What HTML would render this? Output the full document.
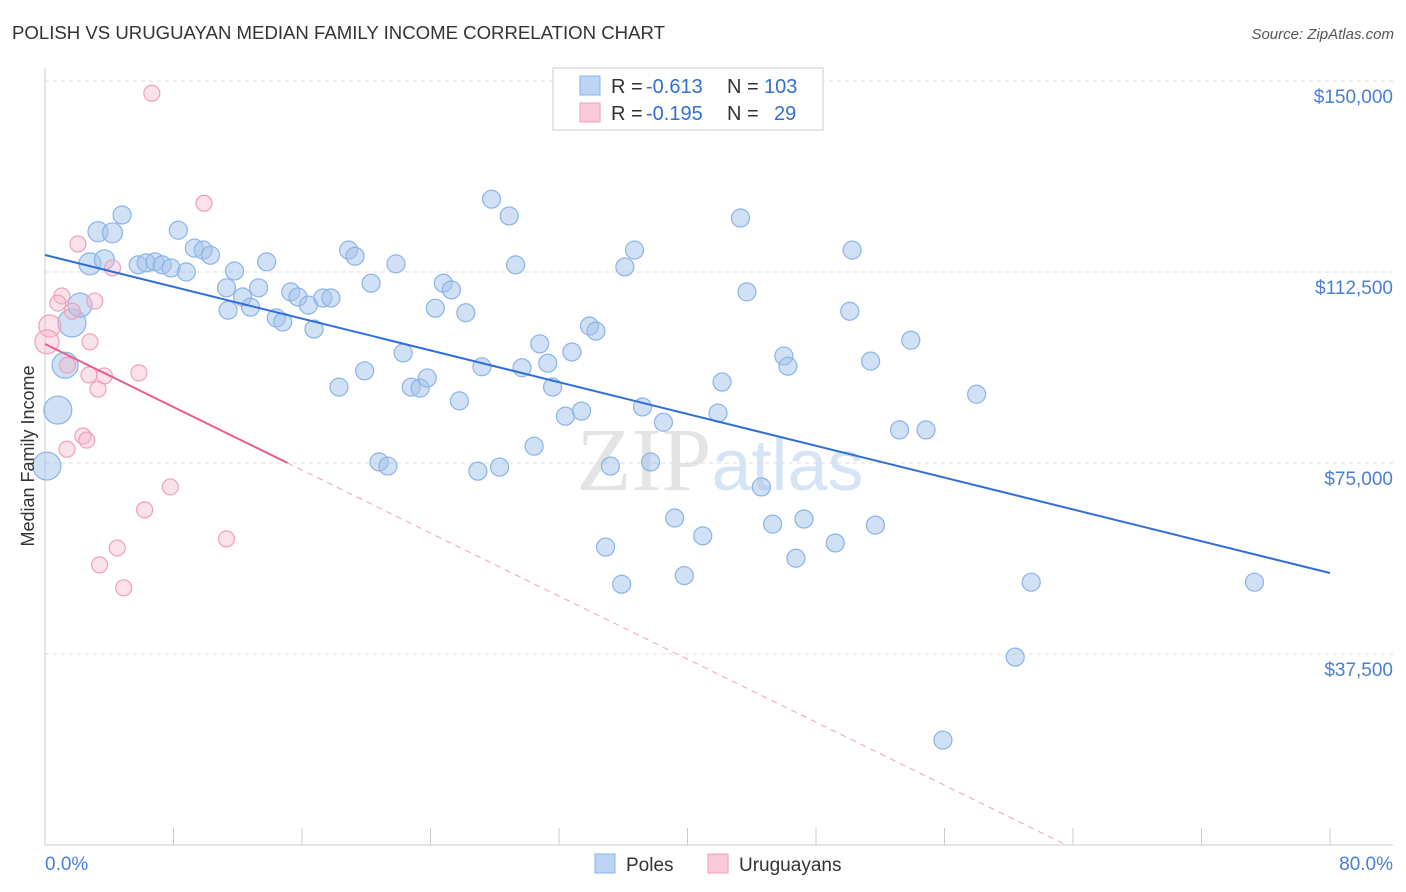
<!DOCTYPE html>
<html><head><meta charset="utf-8"><style>
body{margin:0;background:#fff;font-family:"Liberation Sans",sans-serif;}
svg{display:block}
</style></head><body>
<svg id="chart" width="1406" height="892" xmlns="http://www.w3.org/2000/svg">
<text x="12" y="39" font-size="18.6" fill="#333">POLISH VS URUGUAYAN MEDIAN FAMILY INCOME CORRELATION CHART</text>
<text x="1394" y="39" font-size="15" fill="#555" text-anchor="end" font-style="italic">Source: ZipAtlas.com</text>
<text x="720" y="490" font-size="90" fill="#e4e4e4" text-anchor="middle" font-family="Liberation Serif">ZIP<tspan fill="#d6e4f6" font-family="Liberation Sans" font-size="72">atlas</tspan></text>
<g id="grid"></g><g id="axes"></g><g id="pts"></g><g id="lines"></g>
<text transform="translate(34,456) rotate(-90)" font-size="18" fill="#333" text-anchor="middle">Median Family Income</text>
<g>
<rect x="553" y="68" width="270" height="62" fill="#fff" stroke="#ccc"/>
<rect x="580" y="76" width="20" height="19" fill="#bcd5f5" stroke="#8ab4e8"/>
<rect x="580" y="103" width="20" height="19" fill="#fbc9d8" stroke="#f0a0bb"/>
<text x="611" y="93" font-size="20" fill="#333">R =</text>
<text x="646" y="93" font-size="20" fill="#2f6fd6">-0.613</text>
<text x="727" y="93" font-size="20" fill="#333">N =</text>
<text x="764" y="93" font-size="20" fill="#2f6fd6">103</text>
<text x="611" y="120" font-size="20" fill="#333">R =</text>
<text x="646" y="120" font-size="20" fill="#2f6fd6">-0.195</text>
<text x="727" y="120" font-size="20" fill="#333">N =</text>
<text x="774" y="120" font-size="20" fill="#2f6fd6">29</text>
</g>
<g>
<rect x="595" y="854" width="20" height="19" fill="#bcd5f5" stroke="#8ab4e8"/>
<text x="626" y="871" font-size="19" fill="#333">Poles</text>
<rect x="708" y="854" width="20" height="19" fill="#fbc9d8" stroke="#f0a0bb"/>
<text x="739" y="871" font-size="19" fill="#333">Uruguayans</text>
</g>
</svg>
<script>
const yTicks=[37500,75000,112500,150000];
const yTickLabels=["$37,500","$75,000","$112,500","$150,000"];
const xTicks=[0,8,16,24,32,40,48,56,64,72,80];
const polesX=[0.12,0.8,1.25,1.68,2.18,2.8,3.3,4.2,3.7,4.8,5.8,6.3,6.85,7.3,7.85,8.3,8.8,9.3,9.85,10.3,11.4,11.3,11.8,12.3,12.8,13.3,13.8,14.4,14.8,15.3,15.75,16.4,16.75,17.3,17.8,18.3,18.9,19.3,19.9,20.3,20.8,21.35,21.85,22.3,22.8,23.35,23.8,24.3,24.8,25.3,25.8,26.2,26.95,27.2,27.8,28.3,28.9,29.3,29.7,30.45,30.8,31.3,31.6,32.4,32.8,33.4,33.9,34.3,34.9,35.2,35.9,36.1,36.7,37.2,37.7,38.5,39.2,39.8,40.95,41.9,42.15,43.3,43.7,44.6,45.3,46,46.25,46.75,47.25,49.2,50.1,50.25,51.4,51.7,53.2,53.9,54.85,55.9,58,60.4,61.4,75.3];
const polesY=[74400,85400,94200,102500,106000,114100,120400,120200,114900,123700,113900,114300,114500,113900,113300,120700,112500,117200,116800,115800,105000,109400,112700,107600,105600,109400,114500,103500,102700,108600,107600,106000,101300,107400,107400,89900,116800,115600,93100,110300,75200,74400,114100,96600,89900,89700,91700,105400,110300,109000,87200,104500,73400,93900,126800,74200,123500,113900,93700,78300,98400,94600,89900,84200,96800,85200,101900,100900,58500,74400,51200,113500,116800,86000,75200,83000,64200,52900,60700,84800,90900,123100,108600,70300,63000,96000,94000,56300,64000,59300,104800,116800,95000,62800,81500,99100,81500,20600,88500,36900,51600,51600];
const polesR=[14,14,13,14,12,11,10,10,10,9,9,9,9,9,9,9,9,9,9,9,9,9,9,9,9,9,9,9,9,9,9,9,9,9,9,9,9,9,9,9,9,9,9,9,9,9,9,9,9,9,9,9,9,9,9,9,9,9,9,9,9,9,9,9,9,9,9,9,9,9,9,9,9,9,9,9,9,9,9,9,9,9,9,9,9,9,9,9,9,9,9,9,9,9,9,9,9,9,9,9,9,9];
const uruX=[6.65,9.9,2.05,4.2,1.05,0.8,3.1,1.7,0.3,0.12,2.8,1.4,2.74,3.7,5.85,3.3,2.36,2.6,1.37,7.8,6.2,11.3,4.5,3.4,4.9];
const uruY=[147600,126000,118000,113300,107800,106400,106800,104800,101900,98800,98800,94200,92300,92100,92700,89500,80300,79500,77700,70300,65800,60100,58300,55000,50500];
const uruR=[8,8,8,8,8,8,8,8,11,12,8,8,8,8,8,8,8,8,8,8,8,8,8,8,8];
const polesLine=[115840,53400];
const uruLine={a:98370,b:-1547,solidEnd:15.1,end:63.6};
const X=v=>45+v*16.0625, Y=v=>845-v/196.34;
const NS="http://www.w3.org/2000/svg";
function mk(parent,tag,attrs){const e=document.createElementNS(NS,tag);for(const k in attrs)e.setAttribute(k,attrs[k]);document.getElementById(parent).appendChild(e);return e;}
yTicks.forEach((t,i)=>{
 const g=mk('grid','line',{x1:45,x2:1393,y1:Y(t),y2:Y(t),stroke:'#ddd','stroke-dasharray':'4,4'});
 
 
 const l=mk('grid','text',{x:1393,y:Y(t)+22,'font-size':19,fill:'#4a7fd4','text-anchor':'end'});
 l.textContent=yTickLabels[i];
 
 
});
const ax=mk('axes','line',{x1:45,x2:45,y1:68,y2:845,stroke:'#ccc'});


const bx=mk('axes','line',{x1:45,x2:1393,y1:845,y2:845,stroke:'#ccc'});


xTicks.forEach(t=>{const k=mk('axes','line',{x1:X(t),x2:X(t),y1:828,y2:845,stroke:'#ccc'});
 
 });
const x0=mk('axes','text',{x:45,y:870,'font-size':19,fill:'#4a7fd4'});x0.textContent='0.0%';


const x1=mk('axes','text',{x:1393,y:870,'font-size':19,fill:'#4a7fd4','text-anchor':'end'});x1.textContent='80.0%';


polesX.forEach((v,i)=>{const c=mk('pts','circle',{cx:X(v),cy:Y(polesY[i]),r:polesR[i]||9,fill:'rgba(164,196,236,0.5)',stroke:'#8ab4e8','stroke-width':1.2});
 
 });
uruX.forEach((v,i)=>{const c=mk('pts','circle',{cx:X(v),cy:Y(uruY[i]),r:uruR[i]||8,fill:'rgba(244,180,200,0.4)',stroke:'#f0a0bb','stroke-width':1.2});
 
 });
const pl=mk('lines','line',{x1:X(0),y1:Y(polesLine[0]),x2:X(80),y2:Y(polesLine[1]),stroke:'#2f6fd6','stroke-width':2});


const us=mk('lines','line',{x1:X(0),y1:Y(uruLine.a),x2:X(uruLine.solidEnd),y2:Y(uruLine.a+uruLine.b*uruLine.solidEnd),stroke:'#e8608a','stroke-width':2});


const ud=mk('lines','line',{x1:X(uruLine.solidEnd),y1:Y(uruLine.a+uruLine.b*uruLine.solidEnd),x2:X(uruLine.end),y2:Y(uruLine.a+uruLine.b*uruLine.end),stroke:'#f0a0bb','stroke-width':1,'stroke-dasharray':'6,5'});


</script>
</body></html>
